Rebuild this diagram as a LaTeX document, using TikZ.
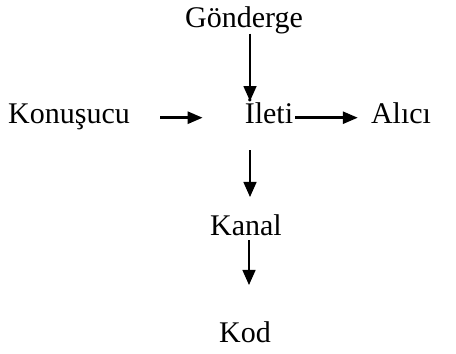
\documentclass[tikz,border=0pt]{standalone}
\usepackage{fontspec}
\setmainfont{Liberation Serif}
\usetikzlibrary{arrows.meta}
\begin{document}
\begin{tikzpicture}[x=1pt,y=-1pt,
  lbl/.style={inner sep=0pt,anchor=base,font=\fontsize{30}{36}\selectfont},
  varr/.style={line width=1.5pt,-{Triangle[length=15pt,width=13pt]}},
  harr/.style={line width=2.6pt,-{Triangle[length=15pt,width=12pt]}}]
\useasboundingbox[fill=white] (0,0) rectangle (456,354);
\node[lbl] (gon) at (244,27) {Gönderge};
\node[lbl] (kon) at (69,123) {Konuşucu};
\node[lbl] (ileti) at (269,123) {İleti};
\node[lbl] (alici) at (401,123) {Alıcı};
\node[lbl] (kanal) at (246,235) {Kanal};
\node[lbl] (kod) at (245,342) {Kod};
\draw[varr] ([xshift=6pt]gon.south) -- ([xshift=6pt,yshift=-3pt]gon.south |- ileti.north);
\draw[harr] ([xshift=30pt,yshift=3pt]kon.mid east) -- ([xshift=-42pt,yshift=3pt]ileti.mid west);
\draw[harr] ([xshift=2pt,yshift=3pt]ileti.mid east) -- ([xshift=-13pt,yshift=3pt]alici.mid west);
\draw[varr] ([xshift=-19pt,yshift=-27pt]ileti.south) -- ([xshift=4pt,yshift=17pt]kanal.north);
\draw[varr] ([xshift=3pt,yshift=-5pt]kanal.south) -- ([xshift=4pt,yshift=36pt]kod.north);
\end{tikzpicture}
\end{document}
